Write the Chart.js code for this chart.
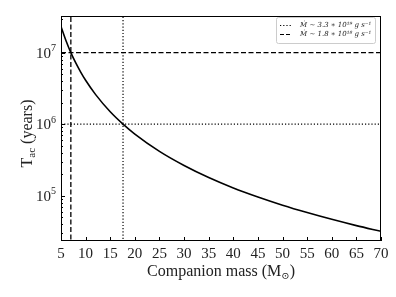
<!DOCTYPE html>
<html>
<head>
<meta charset="utf-8">
<script src="https://cdn.jsdelivr.net/npm/chart.js@4"></script>
<style>
  html, body { margin: 0; padding: 0; background: #fff; }
  #wrap { width: 396px; height: 297px; }
</style>
</head>
<body>
<div id="wrap"><canvas id="tacChart" width="396" height="297"></canvas></div>
<script>
// companion mass (Msun) vs accretion timescale (years)
const mass = [5, 6, 7, 8, 9, 10, 12, 15, 17.6, 20, 25, 30, 35, 40, 45, 50, 55, 60, 65, 70];
const tac = [2.32e7, 1.48e7, 1.0e7, 7.18e6, 5.35e6, 4.11e6, 2.61e6, 1.49e6, 1.0e6, 7.26e5,
  4.16e5, 2.64e5, 1.79e5, 1.28e5, 9.57e4, 7.35e4, 5.80e4, 4.66e4, 3.81e4, 3.17e4];

// reference lines: [mass, T_ac]
const dottedRef = [17.6, 1e6];
const dashedRef = [7, 1e7];
const legendLabels = ['Ṁ ∼ 3.3 ∗ 10¹⁹ g s⁻¹', 'Ṁ ∼ 1.8 ∗ 10¹⁸ g s⁻¹'];

const xTicks = [5, 10, 15, 20, 25, 30, 35, 40, 45, 50, 55, 60, 65, 70];
const yMajor = [1e5, 1e6, 1e7];
const yRange = [2.32e4, 3.26e7];
const xRange = [5, 70];

const serif = '"Liberation Serif", "DejaVu Serif", serif';
const textColor = '#222';

function crossLine(ref) {
  // horizontal line, gap, then vertical line
  return [
    { x: xRange[0], y: ref[1] }, { x: xRange[1], y: ref[1] },
    { x: ref[0], y: null },
    { x: ref[0], y: yRange[1] * 2 }, { x: ref[0], y: yRange[0] / 2 }
  ];
}

// draws base text followed by a smaller raised/lowered piece, returns widths
function drawParts(c, parts, x, y) {
  parts.forEach(p => {
    c.font = p.size + 'px ' + serif;
    c.fillText(p.text, x, y + (p.dy || 0));
    x += c.measureText(p.text).width;
  });
}
function partsWidth(c, parts) {
  let w = 0;
  parts.forEach(p => { c.font = p.size + 'px ' + serif; w += c.measureText(p.text).width; });
  return w;
}

const frameAndText = {
  id: 'frameAndText',
  afterDraw(chart) {
    const c = chart.ctx;
    const a = chart.chartArea;
    const xs = chart.scales.x, ys = chart.scales.y;
    c.save();
    c.strokeStyle = '#000';
    c.lineWidth = 1;
    c.strokeRect(a.left + 0.5, a.top + 0.5, a.right - a.left - 1, a.bottom - a.top - 1);

    // inward ticks
    c.beginPath();
    xTicks.forEach(v => {
      const px = Math.round(xs.getPixelForValue(v)) + 0.5;
      c.moveTo(px, a.bottom); c.lineTo(px, a.bottom - 4);
    });
    ys.ticks.forEach(t => {
      const py = Math.round(ys.getPixelForValue(t.value)) + 0.5;
      const len = yMajor.includes(t.value) ? 4 : 2;
      c.moveTo(a.left, py); c.lineTo(a.left + len, py);
    });
    c.stroke();

    c.fillStyle = textColor;
    c.textBaseline = 'middle';
    c.textAlign = 'left';

    // y tick labels 10^n
    yMajor.forEach(v => {
      const e = String(Math.round(Math.log10(v)));
      const parts = [{ text: '10', size: 15 }, { text: e, size: 10, dy: -5 }];
      const w = partsWidth(c, parts);
      drawParts(c, parts, a.left - 5 - w, ys.getPixelForValue(v) + 1);
    });

    // axis titles
    const midX = (a.left + a.right) / 2;
    const xt = [{ text: 'Companion mass (M', size: 16 }, { text: '⊙', size: 10, dy: 4 }, { text: ')', size: 16 }];
    drawParts(c, xt, midX - partsWidth(c, xt) / 2, 272);

    c.save();
    c.translate(28, (a.top + a.bottom) / 2 + 5);
    c.rotate(-Math.PI / 2);
    const yt = [{ text: 'T', size: 16 }, { text: 'ac', size: 11, dy: 4 }, { text: ' (years)', size: 16 }];
    drawParts(c, yt, -partsWidth(c, yt) / 2, 0);
    c.restore();

    // legend
    const lx = 276, ly = 17, lw = 99, lh = 26;
    c.fillStyle = '#fff';
    c.strokeStyle = '#ccc';
    c.beginPath();
    c.roundRect(lx + 0.5, ly + 0.5, lw, lh, 2);
    c.fill(); c.stroke();
    c.strokeStyle = '#000';
    c.lineWidth = 1.2;
    [[1.2, 2], [4, 2]].forEach((dash, i) => {
      const yy = ly + 8.5 + i * 9;
      c.setLineDash(dash);
      c.beginPath(); c.moveTo(lx + 4, yy); c.lineTo(lx + 16, yy); c.stroke();
      c.setLineDash([]);
      c.fillStyle = textColor;
      c.font = 'italic 7px "DejaVu Serif", serif';
      c.fillText(legendLabels[i], lx + 24, yy);
    });
    c.restore();
  }
};

new Chart(document.getElementById('tacChart'), {
  type: 'scatter',
  data: {
    datasets: [
      {
        data: mass.map((m, i) => ({ x: m, y: tac[i] })),
        showLine: true, borderColor: '#000', borderWidth: 1.6,
        pointRadius: 0, cubicInterpolationMode: 'monotone'
      },
      {
        data: crossLine(dottedRef),
        showLine: true, borderColor: '#000', borderWidth: 1.2,
        borderDash: [1.2, 2], pointRadius: 0, spanGaps: false
      },
      {
        data: crossLine(dashedRef),
        showLine: true, borderColor: '#000', borderWidth: 1.3,
        borderDash: [5, 2.5], pointRadius: 0, spanGaps: false
      }
    ]
  },
  options: {
    responsive: false,
    animation: false,
    layout: { padding: { left: 0, right: 15, top: 16, bottom: 0 } },
    plugins: { legend: { display: false }, tooltip: { enabled: false } },
    scales: {
      x: {
        type: 'linear', min: xRange[0], max: xRange[1],
        grid: { display: false, tickLength: 0 }, border: { display: false },
        afterBuildTicks: s => { s.ticks = xTicks.map(v => ({ value: v })); },
        afterFit: s => { s.height = 56; },
        ticks: { color: textColor, padding: 4, font: { family: serif, size: 15 }, maxRotation: 0 }
      },
      y: {
        type: 'logarithmic', min: yRange[0], max: yRange[1],
        grid: { display: false, tickLength: 0 }, border: { display: false },
        afterBuildTicks: s => {
          const t = [];
          for (let e = 4; e <= 7; e++) {
            for (let k = 1; k <= 9; k++) {
              const v = k * Math.pow(10, e);
              if (v >= yRange[0] && v <= yRange[1]) t.push({ value: v });
            }
          }
          s.ticks = t;
        },
        afterFit: s => { s.width = 61; },
        // labels are drawn by the plugin with raised exponents
        ticks: { autoSkip: false, display: false }
      }
    }
  },
  plugins: [frameAndText]
});
</script>
</body>
</html>
